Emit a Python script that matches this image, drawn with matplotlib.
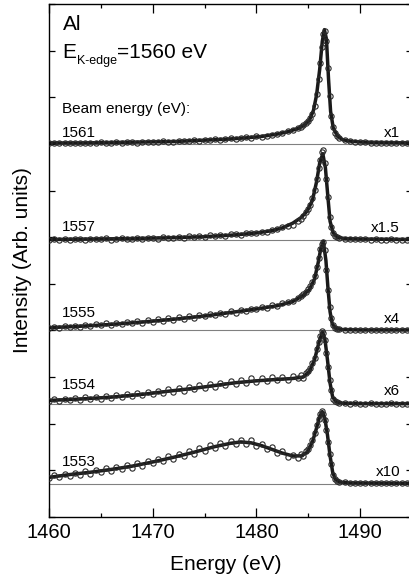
import matplotlib
matplotlib.use("Agg")
import matplotlib.pyplot as plt

plt.rcParams['font.family'] = ['Liberation Sans', 'DejaVu Sans']

# beam energies, scale factors and vertical offsets of the stacked spectra
beam_energy = ["1561", "1557", "1555", "1554", "1553"]
scale_label = ["x1", "x1.5", "x4", "x6", "x10"]
offsets = [8.0, 5.94, 4.0, 2.42, 0.71]

# measured points (open circles), shared energy grid
pts_e = [1460, 1460.5, 1461, 1461.5, 1462, 1462.5, 1463, 1463.5, 1464, 1464.5,
         1465, 1465.5, 1466, 1466.5, 1467, 1467.5, 1468, 1468.5, 1469, 1469.5,
         1470, 1470.5, 1471, 1471.5, 1472, 1472.5, 1473, 1473.5, 1474, 1474.5,
         1475, 1475.5, 1476, 1476.5, 1477, 1477.5, 1478, 1478.5, 1479, 1479.5,
         1480, 1480.5, 1481, 1481.5, 1482, 1482.5, 1483, 1483.5, 1484,
         1484.25, 1484.5, 1484.75, 1485.0, 1485.2, 1485.4, 1485.6, 1485.8, 1486.0, 1486.15,
         1486.3, 1486.45, 1486.6, 1486.75, 1486.9, 1487.05, 1487.2, 1487.4, 1487.6, 1487.8, 1488.0,
         1488.5, 1489, 1489.5, 1490, 1490.5, 1491, 1491.5, 1492, 1492.5, 1493, 1493.5, 1494, 1494.5, 1495]

pts_1561 = [0.02, 0.03, 0.02, 0.01, 0.03, 0.02, 0.02, 0.03, 0.02, 0.03,
            0.04, 0.02, 0.03, 0.04, 0.03, 0.04, 0.05, 0.03, 0.04, 0.05,
            0.04, 0.05, 0.06, 0.04, 0.05, 0.07, 0.06, 0.07, 0.08, 0.07,
            0.09, 0.08, 0.10, 0.09, 0.11, 0.12, 0.11, 0.13, 0.14, 0.13,
            0.16, 0.15, 0.18, 0.20, 0.22, 0.23, 0.28, 0.29, 0.34,
            0.37, 0.40, 0.44, 0.49, 0.55, 0.65, 0.82, 1.08, 1.40, 1.74,
            2.08, 2.36, 2.42, 2.20, 1.62, 1.02, 0.60, 0.36, 0.24, 0.17, 0.13,
            0.08, 0.06, 0.05, 0.04, 0.04, 0.03, 0.03, 0.03, 0.02, 0.02, 0.02, 0.02, 0.02, 0.02]

pts_1557 = [0.01, 0.03, 0.00, 0.02, 0.01, 0.03, 0.02, 0.01, 0.03, 0.02,
            0.02, 0.04, 0.01, 0.03, 0.04, 0.02, 0.03, 0.05, 0.02, 0.04,
            0.05, 0.03, 0.06, 0.04, 0.05, 0.07, 0.05, 0.08, 0.06, 0.09,
            0.07, 0.10, 0.08, 0.11, 0.09, 0.12, 0.13, 0.11, 0.14, 0.16,
            0.15, 0.18, 0.17, 0.21, 0.23, 0.27, 0.29, 0.33, 0.40,
            0.46, 0.52, 0.60, 0.66, 0.76, 0.90, 1.08, 1.30, 1.55, 1.72,
            1.88, 1.92, 1.65, 1.30, 0.92, 0.50, 0.28, 0.16, 0.09, 0.06, 0.05,
            0.03, 0.03, 0.02, 0.02, 0.02, 0.01, 0.02, 0.01, 0.01, 0.02, 0.01, 0.01, 0.01, 0.01]

pts_1555 = [0.05, 0.08, 0.06, 0.09, 0.07, 0.10, 0.08, 0.11, 0.10, 0.13,
            0.11, 0.15, 0.12, 0.16, 0.14, 0.18, 0.15, 0.20, 0.17, 0.22,
            0.19, 0.24, 0.21, 0.27, 0.23, 0.28, 0.25, 0.31, 0.27, 0.33,
            0.30, 0.36, 0.33, 0.38, 0.35, 0.42, 0.38, 0.44, 0.41, 0.47,
            0.45, 0.51, 0.48, 0.55, 0.52, 0.58, 0.60, 0.64, 0.70,
            0.74, 0.78, 0.82, 0.88, 0.95, 1.04, 1.16, 1.36, 1.56, 1.74,
            1.86, 1.90, 1.72, 1.30, 0.86, 0.50, 0.26, 0.12, 0.06, 0.04, 0.03,
            0.02, 0.02, 0.01, 0.02, 0.01, 0.01, 0.02, 0.01, 0.01, 0.01, 0.02, 0.01, 0.01, 0.01]

pts_1554 = [0.07, 0.11, 0.06, 0.12, 0.09, 0.13, 0.08, 0.15, 0.11, 0.16,
            0.12, 0.18, 0.13, 0.19, 0.15, 0.22, 0.17, 0.24, 0.19, 0.26,
            0.21, 0.29, 0.24, 0.32, 0.27, 0.35, 0.29, 0.37, 0.32, 0.40,
            0.34, 0.43, 0.37, 0.46, 0.41, 0.50, 0.43, 0.52, 0.45, 0.55,
            0.47, 0.56, 0.49, 0.58, 0.51, 0.59, 0.52, 0.60, 0.57,
            0.62, 0.56, 0.66, 0.70, 0.78, 0.88, 1.00, 1.18, 1.34, 1.46,
            1.56, 1.52, 1.38, 1.10, 0.80, 0.52, 0.30, 0.12, 0.07, 0.05, 0.03,
            0.02, 0.01, 0.02, 0.01, 0.01, 0.02, 0.01, 0.01, 0.01, 0.02, 0.01, 0.01, 0.01, 0.01]

pts_1553 = [0.12, 0.18, 0.15, 0.21, 0.17, 0.24, 0.20, 0.27, 0.22, 0.30,
            0.25, 0.33, 0.28, 0.36, 0.31, 0.41, 0.35, 0.44, 0.39, 0.50,
            0.44, 0.53, 0.49, 0.60, 0.53, 0.64, 0.59, 0.71, 0.64, 0.76,
            0.70, 0.83, 0.76, 0.88, 0.82, 0.93, 0.86, 0.95, 0.86, 0.94,
            0.82, 0.86, 0.75, 0.79, 0.67, 0.70, 0.58, 0.63, 0.56,
            0.64, 0.59, 0.70, 0.75, 0.84, 0.95, 1.10, 1.26, 1.40, 1.50,
            1.57, 1.50, 1.36, 1.15, 0.90, 0.65, 0.42, 0.20, 0.10, 0.07, 0.05,
            0.03, 0.02, 0.02, 0.01, 0.02, 0.01, 0.01, 0.02, 0.01, 0.01, 0.01, 0.02, 0.01, 0.01]

# fitted curves (solid lines)
fit_e_1561 = [1460, 1463, 1466, 1469, 1472, 1475, 1477, 1479, 1480.5, 1482, 1483, 1484,
              1484.6, 1485.1, 1485.5, 1485.8, 1486.1, 1486.35, 1486.55, 1486.75, 1486.95,
              1487.15, 1487.4, 1487.8, 1488.3, 1489, 1490, 1492, 1495]
fit_i_1561 = [0.02, 0.02, 0.03, 0.04, 0.05, 0.08, 0.10, 0.13, 0.16, 0.21, 0.26, 0.33,
              0.40, 0.50, 0.72, 1.05, 1.60, 2.20, 2.45, 2.25, 1.40,
              0.70, 0.35, 0.17, 0.09, 0.06, 0.04, 0.03, 0.02]

fit_e_1557 = [1460, 1464, 1468, 1472, 1475, 1478, 1480, 1481.5, 1482.5, 1483.5, 1484.3,
              1484.9, 1485.4, 1485.8, 1486.1, 1486.4, 1486.65, 1486.9, 1487.1, 1487.4,
              1487.8, 1488.5, 1490, 1495]
fit_i_1557 = [0.01, 0.02, 0.03, 0.05, 0.07, 0.11, 0.15, 0.20, 0.26, 0.36, 0.48,
              0.62, 0.85, 1.25, 1.65, 1.85, 1.55, 0.90, 0.40, 0.15,
              0.06, 0.03, 0.02, 0.01]

fit_e_1555 = [1460, 1463, 1466, 1469, 1472, 1475, 1478, 1480, 1482, 1483.5, 1484.5,
              1485.1, 1485.6, 1485.95, 1486.2, 1486.45, 1486.7, 1486.9, 1487.1, 1487.3,
              1487.6, 1488.2, 1490, 1495]
fit_i_1555 = [0.06, 0.09, 0.13, 0.18, 0.24, 0.31, 0.40, 0.46, 0.53, 0.62, 0.75,
              0.88, 1.10, 1.45, 1.75, 1.91, 1.50, 0.90, 0.40, 0.15,
              0.05, 0.02, 0.01, 0.01]

fit_e_1554 = [1460, 1463, 1466, 1469, 1472, 1474, 1476, 1478, 1480, 1482, 1483.5, 1484.5,
              1485.1, 1485.6, 1486.0, 1486.35, 1486.6, 1486.85, 1487.1, 1487.35,
              1487.7, 1488.3, 1490, 1495]
fit_i_1554 = [0.08, 0.11, 0.15, 0.21, 0.29, 0.34, 0.40, 0.46, 0.50, 0.53, 0.55, 0.58,
              0.70, 0.95, 1.30, 1.55, 1.40, 0.95, 0.45, 0.15,
              0.05, 0.02, 0.01, 0.01]

fit_e_1553 = [1460, 1462, 1464, 1466, 1468, 1470, 1472, 1474, 1476, 1477.5, 1478.5, 1479.5,
              1480.5, 1481.5, 1482.5, 1483.5, 1484.3, 1484.9, 1485.4, 1485.8, 1486.1,
              1486.35, 1486.6, 1486.85, 1487.1, 1487.35, 1487.6, 1488, 1489, 1495]
fit_i_1553 = [0.14, 0.20, 0.25, 0.31, 0.38, 0.47, 0.57, 0.68, 0.80, 0.87, 0.90, 0.88,
              0.82, 0.74, 0.66, 0.60, 0.60, 0.68, 0.90, 1.20, 1.45,
              1.55, 1.40, 1.05, 0.60, 0.25, 0.10, 0.04, 0.02, 0.01]

points = [pts_1561, pts_1557, pts_1555, pts_1554, pts_1553]
fit_e = [fit_e_1561, fit_e_1557, fit_e_1555, fit_e_1554, fit_e_1553]
fit_i = [fit_i_1561, fit_i_1557, fit_i_1555, fit_i_1554, fit_i_1553]

# label heights (data units, baseline of text)
left_label_y = [8.15, 6.14, 4.29, 2.75, 1.09]
right_label_y = [8.15, 6.12, 4.16, 2.62, 0.88]

fig = plt.figure(figsize=(4.09, 5.82), dpi=100)
ax = fig.add_axes([49 / 409, 65 / 582, 363 / 409, 513 / 582])

for k in range(5):
    off = offsets[k]
    ax.axhline(off, color='#808080', lw=0.8, zorder=1)
    ax.plot(fit_e[k], [v + off for v in fit_i[k]], color='#1a1a1a', lw=2.5, zorder=2)
    ax.plot(pts_e, [v + off for v in points[k]], 'o', ms=3.8, mfc='none',
            mec='#2a2a2a', mew=0.8, zorder=3)
    ax.text(1461.25, left_label_y[k], beam_energy[k], fontsize=11, va='baseline')
    ax.text(1493.85, right_label_y[k], scale_label[k], fontsize=11, va='baseline', ha='right')

ax.text(1461.25, 8.67, "Beam energy (eV):", fontsize=11, va='baseline')
ax.text(1461.3, 10.45, "Al", fontsize=15, va='baseline')
tE = ax.text(1461.3, 9.85, "E", fontsize=15, va='baseline')
tK = ax.annotate("K-edge", xy=(1, 0), xycoords=tE, xytext=(0.3, -1.8),
                 textcoords='offset points', fontsize=9, va='baseline')
ax.annotate("=1560 eV", xy=(1, 0), xycoords=(tK, tE), fontsize=15, va='bottom')

ax.set_xlim(1460, 1495)
ax.set_ylim(0, 11)
ax.set_xticks([1460, 1470, 1480, 1490])
ax.set_xticks([1465, 1475, 1485], minor=True)
ax.set_yticks(range(12))
ax.set_yticklabels([])
ax.tick_params(axis='x', which='major', direction='in', length=6.5, width=0.9,
               top=True, labelsize=14.5, pad=4)
ax.tick_params(axis='x', which='minor', direction='in', length=3, width=0.9, top=True)
ax.tick_params(axis='y', direction='in', length=4.3, width=0.9, right=True)
for s in ax.spines.values():
    s.set_linewidth(1.0)

ax.set_xlabel("Energy (eV)", fontsize=15)
ax.set_ylabel("Intensity (Arb. units)", fontsize=15)
ax.xaxis.set_label_coords(0.488, -0.075)
ax.yaxis.set_label_coords(-0.047, 0.5)

fig.savefig("out.png", dpi=100)
